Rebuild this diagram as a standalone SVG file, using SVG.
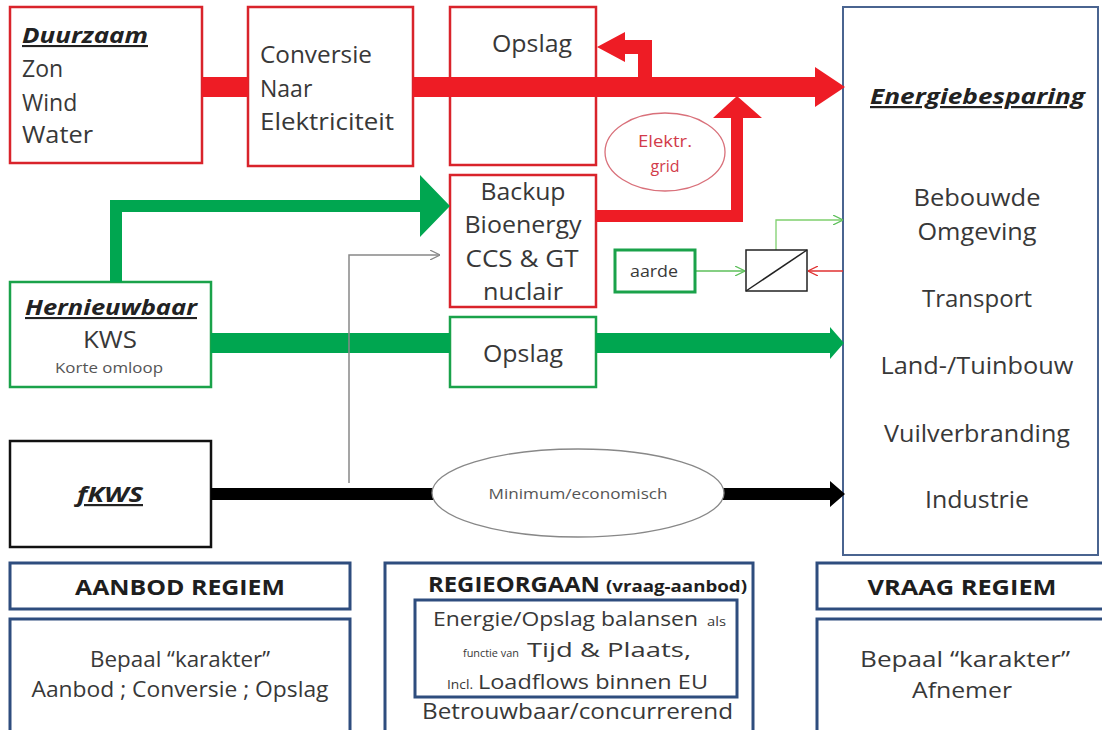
<svg xmlns="http://www.w3.org/2000/svg" width="1102" height="730" viewBox="0 0 1102 730">
<defs>
<style>
text{font-family:"Open Sans",Lato,"Liberation Sans",sans-serif;fill:#383838}
.t{font-size:23px}
.r{font-size:24px}
.c{text-anchor:middle}
.h{font-weight:bold;font-style:italic;text-decoration:underline;fill:#222}
.bd{font-weight:bold;fill:#1e1e1e}
.rb{fill:#fff;stroke:#d9232b;stroke-width:2.5}
.gb{fill:#fff;stroke:#1aa24a;stroke-width:2.5}
.bb{fill:#fff;stroke:#2e4d7e;stroke-width:3}
.red{fill:#ee1c25}
.grn{fill:#00a650}
</style>
<marker id="ag" viewBox="0 0 10 10" refX="10" refY="5" markerWidth="10" markerHeight="10" markerUnits="userSpaceOnUse" orient="auto"><path d="M0,0 L10,5 L0,10" fill="none" stroke="#5cbf5a" stroke-width="1.2"/></marker>
<marker id="ar" viewBox="0 0 10 10" refX="10" refY="5" markerWidth="10" markerHeight="10" markerUnits="userSpaceOnUse" orient="auto"><path d="M0,0 L10,5 L0,10" fill="none" stroke="#e03030" stroke-width="1.2"/></marker>
<marker id="ak" viewBox="0 0 10 10" refX="10" refY="5" markerWidth="10" markerHeight="10" markerUnits="userSpaceOnUse" orient="auto"><path d="M0,0 L10,5 L0,10" fill="none" stroke="#888" stroke-width="1.2"/></marker>
</defs>
<rect width="1102" height="730" fill="#fff"/>

<g id="energiebesparing">
<rect x="843" y="7" width="255" height="548" fill="#fff" stroke="#4a6490" stroke-width="2"/>
<text x="870" y="104" class="h" style="font-size:22px" textLength="215" lengthAdjust="spacingAndGlyphs">Energiebesparing</text>
<text x="977" y="206" class="r c" textLength="127" lengthAdjust="spacingAndGlyphs">Bebouwde</text>
<text x="977" y="240" class="r c" textLength="119" lengthAdjust="spacingAndGlyphs">Omgeving</text>
<text x="977" y="307" class="r c" textLength="110" lengthAdjust="spacingAndGlyphs">Transport</text>
<text x="977" y="374" class="r c" textLength="193" lengthAdjust="spacingAndGlyphs">Land-/Tuinbouw</text>
<text x="977" y="442" class="r c" textLength="186" lengthAdjust="spacingAndGlyphs">Vuilverbranding</text>
<text x="977" y="508" class="r c" textLength="104" lengthAdjust="spacingAndGlyphs">Industrie</text>
</g>

<g id="duurzaam">
<rect x="10" y="7" width="192" height="156" class="rb"/>
<text x="22" y="43" class="h" style="font-size:21px" textLength="126" lengthAdjust="spacingAndGlyphs">Duurzaam</text>
<text x="22" y="77" class="t">Zon</text>
<text x="22" y="111" class="t">Wind</text>
<text x="22" y="143" class="t" textLength="71" lengthAdjust="spacingAndGlyphs">Water</text>
</g>

<g id="conversie">
<rect x="248" y="7" width="165" height="159" class="rb"/>
<text x="260" y="63" class="t" textLength="112" lengthAdjust="spacingAndGlyphs">Conversie</text>
<text x="260" y="97" class="t">Naar</text>
<text x="260" y="130" class="t" textLength="134" lengthAdjust="spacingAndGlyphs">Elektriciteit</text>
</g>

<g id="opslag-rood">
<rect x="450" y="7" width="146" height="158" class="rb"/>
<text x="532" y="52" class="t c" textLength="80" lengthAdjust="spacingAndGlyphs">Opslag</text>
</g>

<g id="backup">
<rect x="450" y="175" width="146" height="132" class="rb"/>
<text x="523" y="200" class="t c" textLength="85" lengthAdjust="spacingAndGlyphs">Backup</text>
<text x="523" y="233" class="t c" textLength="117" lengthAdjust="spacingAndGlyphs">Bioenergy</text>
<text x="522" y="267" class="t c" textLength="113" lengthAdjust="spacingAndGlyphs">CCS  &amp; GT</text>
<text x="523" y="300" class="t c" textLength="80" lengthAdjust="spacingAndGlyphs">nuclair</text>
</g>

<g id="hernieuwbaar">
<rect x="10" y="282" width="201" height="105" class="gb"/>
<text x="111" y="315" class="h c" style="font-size:21px" textLength="172" lengthAdjust="spacingAndGlyphs">Hernieuwbaar</text>
<text x="110" y="348" class="t c" textLength="54" lengthAdjust="spacingAndGlyphs">KWS</text>
<text x="109" y="373" class="c" style="font-size:14px;fill:#555" textLength="108" lengthAdjust="spacingAndGlyphs">Korte omloop</text>
</g>

<g id="opslag-groen">
<rect x="450" y="317" width="146" height="70" class="gb"/>
<text x="523" y="362" class="t c" textLength="80" lengthAdjust="spacingAndGlyphs">Opslag</text>
</g>

<g id="fkws">
<rect x="10" y="441" width="201" height="106" fill="#fff" stroke="#111" stroke-width="2.5"/>
<text x="110" y="502" class="h c" style="font-size:22px" textLength="66" lengthAdjust="spacingAndGlyphs">fKWS</text>
</g>

<g id="connectors">
<rect x="202" y="77" width="46" height="20" class="red"/>
<polygon points="413,77 815,77 815,67 845,87 815,107 815,97 413,97" class="red"/>
<polygon points="638,87 638,54 625,54 625,62 597,47 625,32 625,40 652,40 652,87" class="red"/>
<polygon points="596,210 731,210 731,118 713,118 737,96 762,118 743,118 743,222 596,222" class="red"/>
<polygon points="110,282 110,200 420,200 420,175 450,206 420,237 420,212 122,212 122,282" class="grn"/>
<rect x="211" y="333" width="239" height="20" class="grn"/>
<polygon points="596,333 830,333 830,327 844,343 830,359 830,353 596,353" class="grn"/>
<polyline points="349,483 349,255 440,255" fill="none" stroke="#888" stroke-width="1.5" marker-end="url(#ak)"/>
<rect x="211" y="488" width="224" height="12" fill="#000"/>
<polygon points="722,488 830,488 830,481 845,494 830,507 830,500 722,500" fill="#000"/>
<line x1="695" y1="271" x2="745" y2="271" stroke="#5cbf5a" stroke-width="1.3" marker-end="url(#ag)"/>
<polyline points="776,250 776,220 843,220" fill="none" stroke="#7fd06e" stroke-width="1.3" marker-end="url(#ag)"/>
<line x1="843" y1="271" x2="808" y2="271" stroke="#e03030" stroke-width="1.3" marker-end="url(#ar)"/>
</g>

<g id="elektr-grid">
<ellipse cx="665" cy="152" rx="60" ry="39" fill="#fff" stroke="#d9707a" stroke-width="1.3"/>
<text x="665" y="147" class="c" style="font-size:16px;fill:#d23b4a" textLength="54" lengthAdjust="spacingAndGlyphs">Elektr.</text>
<text x="665" y="172" class="c" style="font-size:16px;fill:#d23b4a">grid</text>
</g>

<g id="minimum">
<ellipse cx="578" cy="493" rx="146" ry="44" fill="#fff" stroke="#888" stroke-width="1.3"/>
<text x="578" y="499" class="c" style="font-size:14px;fill:#555" textLength="179" lengthAdjust="spacingAndGlyphs">Minimum/economisch</text>
</g>

<g id="aarde">
<rect x="615" y="250" width="80" height="42" fill="#fff" stroke="#1aa24a" stroke-width="3"/>
<text x="654" y="277" class="c" style="font-size:16px" textLength="48" lengthAdjust="spacingAndGlyphs">aarde</text>
</g>

<g id="omvormer">
<rect x="746" y="250" width="61" height="41" fill="#fff" stroke="#222" stroke-width="1.5"/>
<line x1="746" y1="291" x2="807" y2="250" stroke="#222" stroke-width="1.5"/>
</g>

<g id="aanbod-regiem">
<rect x="10" y="563" width="340" height="46" class="bb"/>
<text x="180" y="595" class="c bd" style="font-size:21px" textLength="210" lengthAdjust="spacingAndGlyphs">AANBOD REGIEM</text>
<rect x="10" y="619" width="340" height="115" class="bb"/>
<text x="180" y="667" class="c" style="font-size:21px" textLength="180" lengthAdjust="spacingAndGlyphs">Bepaal “karakter”</text>
<text x="180" y="697" class="c" style="font-size:21px" textLength="297" lengthAdjust="spacingAndGlyphs">Aanbod ; Conversie ;  Opslag</text>
</g>

<g id="regieorgaan">
<rect x="385" y="563" width="368" height="171" class="bb"/>
<text x="428" y="592" class="bd" style="font-size:22px" textLength="172" lengthAdjust="spacingAndGlyphs">REGIEORGAAN</text>
<text x="606" y="592" class="bd" style="font-size:16px" textLength="141" lengthAdjust="spacingAndGlyphs">(vraag-aanbod)</text>
<rect x="415" y="600" width="322" height="97" class="bb"/>
<text x="433" y="626" style="font-size:20px" textLength="265" lengthAdjust="spacingAndGlyphs">Energie/Opslag balansen</text>
<text x="707" y="626" style="font-size:13px" textLength="19" lengthAdjust="spacingAndGlyphs">als</text>
<text x="463" y="657" style="font-size:11.5px" textLength="56" lengthAdjust="spacingAndGlyphs">functie van</text>
<text x="527" y="657" style="font-size:20px" textLength="164" lengthAdjust="spacingAndGlyphs">Tijd &amp; Plaats,</text>
<text x="447" y="689" style="font-size:13px" textLength="26" lengthAdjust="spacingAndGlyphs">Incl.</text>
<text x="478" y="689" style="font-size:20px" textLength="230" lengthAdjust="spacingAndGlyphs">Loadflows binnen EU</text>
<text x="422" y="719" style="font-size:21px" textLength="311" lengthAdjust="spacingAndGlyphs">Betrouwbaar/concurrerend</text>
</g>

<g id="vraag-regiem">
<rect x="817" y="563" width="290" height="46" class="bb"/>
<text x="962" y="595" class="c bd" style="font-size:21px" textLength="189" lengthAdjust="spacingAndGlyphs">VRAAG REGIEM</text>
<rect x="817" y="619" width="290" height="115" class="bb"/>
<text x="965" y="667" class="c" style="font-size:22px" textLength="210" lengthAdjust="spacingAndGlyphs">Bepaal “karakter”</text>
<text x="962" y="698" class="c" style="font-size:22px" textLength="100" lengthAdjust="spacingAndGlyphs">Afnemer</text>
</g>
</svg>
